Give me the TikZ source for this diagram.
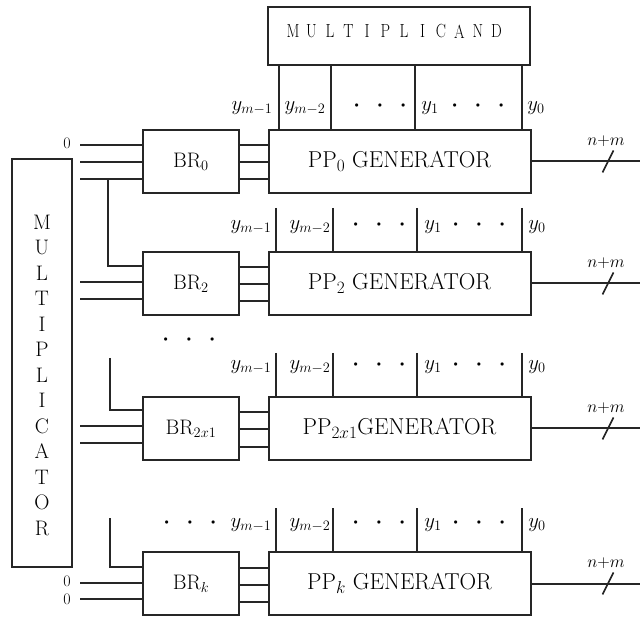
\documentclass[tikz,border=0pt]{standalone}
\usetikzlibrary{calc}
\begin{document}
\begin{tikzpicture}[x=1pt,y=-1pt,
  wire/.style={line width=2pt, draw=black!85},
  blk/.style={draw=black!85, line width=2pt, rectangle, inner sep=0pt,
    text=black, font=\fontsize{21}{24}\selectfont},
  ppbox/.style={blk, font=\fontsize{23}{26}\selectfont},
  capA/.style={inner sep=0pt, text=black, font=\fontsize{19}{20}\selectfont},
  capB/.style={inner sep=0pt, text=black, font=\fontsize{21}{24}\selectfont},
  ylab/.style={inner sep=0pt, text=black, font=\fontsize{20}{22}\selectfont},
  dots/.style={inner sep=0pt, text=black, font=\fontsize{8.5}{10}\selectfont},
  bus/.style={inner sep=0pt, text=black, font=\fontsize{17}{18}\selectfont},
  zero/.style={inner sep=0pt, text=black, font=\fontsize{16}{16}\selectfont}]
\useasboundingbox (0,0) rectangle (640,617);
\newcommand{\tripledot}{$\bullet$\hspace{19pt}$\bullet$\hspace{19pt}$\bullet$}

% ---- multiplicand register ----
\node[blk, minimum width=262pt, minimum height=58pt] (mcand) at (399,36) {};
\foreach \l [count=\i from 0] in {M,U,L,T,I,P,L,I,C,A,N,D}
  \node[capA] (mc\i) at (293+18.5*\i,31.5) {\scalebox{0.8}[1]{\l}};

% ---- multiplicator register ----
\node[blk, minimum width=60pt, minimum height=408pt] (mplier) at (42,363) {};
\foreach \l [count=\i from 0] in {M,U,L,T,I,P,L,I,C,A,T,O,R}
  \node[capB] (mp\i) at (42,222+25.5*\i) {\l};

% ---- booth recoders and partial product generators ----
\foreach \r/\t/\bl/\pl in {0/130/{BR$_0$}/{PP$_0$ GENERATOR},
                           1/252/{BR$_2$}/{PP$_2$ GENERATOR},
                           2/397/{BR$_{2x1}$}/{PP$_{2x1}$GENERATOR},
                           3/552/{BR$_k$}/{PP$_k$ GENERATOR}}{
  \node[blk, minimum width=96pt, minimum height=63pt] (br\r) at (191,\t+31.5) {\bl};
  \node[ppbox, minimum width=262pt, minimum height=63pt] (pp\r) at (399.5,\t+31.5) {\pl};
  % recoder outputs into the generator
  \foreach \d in {-16,1,18}
    \draw[wire] ($(br\r.east)+(0,\d)$) -- ($(pp\r.west)+(0,\d)$);
  % output bus
  \coordinate (out\r) at (640,\t+31.5);
  \draw[wire] (pp\r.east) -- (out\r);
  \coordinate (sl\r) at (608,\t+31.5);
  \draw[wire, line width=1.6pt] ($(sl\r)+(-5.5,11)$) -- ($(sl\r)+(5.5,-11)$);
  \node[bus] (bw\r) at (606,\t+11) {$n{+}m$};
  % multiplicand bits entering the generator
  \ifnum\r=0
    \foreach \x [count=\j] in {279,331,415,522}{
      \coordinate (vx\j) at (\x,0);
      \draw[wire] (mcand.south -| vx\j) -- (pp0.north -| vx\j);
    }
  \else
    \foreach \x [count=\j] in {276,333,417,522}{
      \coordinate (tp\r\j) at (\x,\t-44);
      \draw[wire] (tp\r\j) -- (pp\r.north -| tp\r\j);
    }
  \fi
}

% ---- multiplier bits into the recoders ----
% row 0
\coordinate (a1) at (80,145);
\coordinate (a2) at (80,162);
\coordinate (a3) at (80,179);
\draw[wire] (a1) -- (br0.west |- a1);
\draw[wire] (a2) -- (br0.west |- a2);
\draw[wire] (a3) -- (br0.west |- a3);
\node[zero] (z0) at (67,143) {0};
% row 1, shared bit branches down from row 0
\coordinate (b0) at (108,179);
\coordinate (b1) at (108,266);
\coordinate (b2) at (80,282);
\coordinate (b3) at (80,299);
\draw[wire] (b0) -- (b1) -- (br1.west |- b1);
\draw[wire] (b2) -- (br1.west |- b2);
\draw[wire] (b3) -- (br1.west |- b3);
% row 2
\coordinate (c0) at (110,358);
\coordinate (c1) at (110,410);
\coordinate (c2) at (80,426);
\coordinate (c3) at (80,443);
\draw[wire] (c0) -- (c1) -- (br2.west |- c1);
\draw[wire] (c2) -- (br2.west |- c2);
\draw[wire] (c3) -- (br2.west |- c3);
% row 3
\coordinate (d0) at (110,518);
\coordinate (d1) at (110,567);
\coordinate (d2) at (80,583);
\coordinate (d3) at (80,599);
\draw[wire] (d0) -- (d1) -- (br3.west |- d1);
\draw[wire] (d2) -- (br3.west |- d2);
\draw[wire] (d3) -- (br3.west |- d3);
\node[zero] (z1) at (67,581) {0};
\node[zero] (z2) at (67,599) {0};

% ---- bit labels ----
\node[ylab] (l0a) at (252,108) {$y_{m-1}$};
\node[ylab] (l0b) at (305,108) {$y_{m-2}$};
\node[dots] (l0c) at (380,106) {\tripledot};
\node[ylab] (l0d) at (430,108) {$y_1$};
\node[dots] (l0e) at (478,106) {\tripledot};
\node[ylab] (l0f) at (536,108) {$y_0$};
\foreach \r/\yy in {1/227,2/367,3/525}{
  \node[ylab] (l\r a) at (251,\yy) {$y_{m-1}$};
  \node[ylab] (l\r b) at (310,\yy) {$y_{m-2}$};
  \node[dots] (l\r c) at (379,\yy-2) {\tripledot};
  \node[ylab] (l\r d) at (433,\yy) {$y_1$};
  \node[dots] (l\r e) at (479,\yy-2) {\tripledot};
  \node[ylab] (l\r f) at (537,\yy) {$y_0$};
}
\node[dots] (gap1) at (189,340) {\tripledot};
\node[dots] (gap2) at (190,523) {\tripledot};
\end{tikzpicture}
\end{document}
